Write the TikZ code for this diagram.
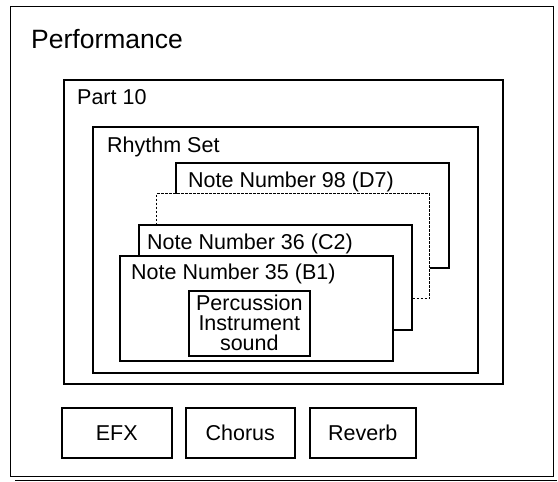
\documentclass[tikz,border=0pt]{standalone}
\usepackage{fontspec}
\setmainfont{Liberation Sans}
\usetikzlibrary{positioning}

\tikzset{
    frame/.style={draw, line width=1.6pt, fill=white, anchor=north west, inner sep=0pt},
    notebox/.style={frame, minimum width=273pt, minimum height=105pt},
    fxbox/.style={frame, minimum height=50pt, font=\fontsize{21.5}{24}\selectfont},
    boxtitle/.style={anchor=base west, inner sep=0pt, font=\fontsize{21.5}{24}\selectfont},
}

\begin{document}
\begin{tikzpicture}[x=1pt, y=-1pt]
    \useasboundingbox (0,0) rectangle (558,482);

    % Performance frame
    \node[frame, line width=1.4pt, minimum width=543pt, minimum height=470pt] (perf) at (10,6) {};
    \draw[line width=1.4pt] ([shift={(5pt,-3pt)}]perf.south west) -- ([shift={(3pt,-3pt)}]perf.south east);
    \node[boxtitle, font=\fontsize{26.5}{30}\selectfont] (perft) at (31,48) {Performance};

    % Part and rhythm set
    \node[frame, minimum width=439pt, minimum height=304pt] (part) at (63,79) {};
    \node[boxtitle] (partt) at (77,104) {Part 10};
    \node[frame, minimum width=385pt, minimum height=246pt] (rhythm) at (92,126) {};
    \node[boxtitle] (rhythmt) at (107,152) {Rhythm Set};

    % Stacked note numbers
    \node[notebox] (n98) at (175,162) {};
    \node[boxtitle] (n98t) at (188,187) {Note Number 98 (D7)};
    \node[notebox, line width=1.3pt, dash pattern=on 2.5pt off 1.5pt] (ndots) at (156,193) {};
    \node[notebox] (n36) at (138,224) {};
    \node[boxtitle] (n36t) at (147,249) {Note Number 36 (C2)};
    \node[notebox] (n35) at (119,255) {};
    \node[boxtitle] (n35t) at (131,279) {Note Number 35 (B1)};

    % Instrument
    \node[frame, minimum width=121pt, minimum height=65pt, align=center,
          font=\fontsize{21.5}{20}\selectfont] (perc) at (188,290) {Percussion\\Instrument\\sound};

    % Effects
    \node[fxbox, minimum width=110pt] (efx) at (61,407) {EFX};
    \node[fxbox, minimum width=109pt] (chorus) at (185,407) {Chorus};
    \node[fxbox, minimum width=106pt] (reverb) at (309,407) {Reverb};
\end{tikzpicture}
\end{document}
